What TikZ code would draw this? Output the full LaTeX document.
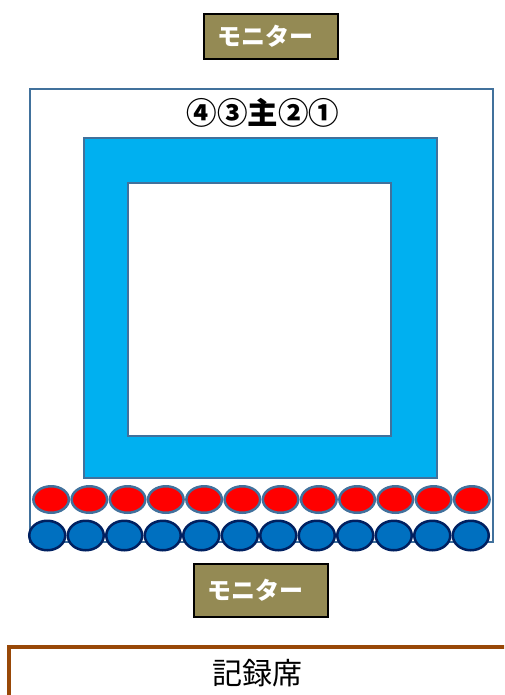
\documentclass[tikz,border=0pt]{standalone}
\usepackage{fontspec}
\newfontfamily\jp{Noto Sans CJK JP}
\usetikzlibrary{shapes.geometric}
\definecolor{frameblue}{HTML}{41719C}
\definecolor{poolblue}{HTML}{00B0F0}
\definecolor{seatblue}{HTML}{0070C0}
\definecolor{seatnavy}{HTML}{002060}
\definecolor{monolive}{HTML}{948A54}
\definecolor{deskbrown}{HTML}{984807}
\begin{document}
\begin{tikzpicture}[x=1pt, y=-1pt,
    monitor/.style={draw=black, line width=2.2pt, fill=monolive,
        minimum width=134pt, inner sep=0pt},
    montext/.style={text=white, font=\jp\bfseries\fontsize{24}{24}\selectfont, inner sep=0pt},
    redseat/.style={ellipse, draw=frameblue, line width=2.5pt, fill=red,
        minimum width=35.5pt, minimum height=26.5pt, inner sep=0pt},
    blueseat/.style={ellipse, draw=seatnavy, line width=2.5pt, fill=seatblue,
        minimum width=36pt, minimum height=29.5pt, inner sep=0pt}]
        \useasboundingbox (0,0) rectangle (504,695);
        \clip (0,0) rectangle (504,695);

        % Monitor at the top
        \node[monitor, minimum height=45pt] (monTop) at (271,36.5) {};
        \node[montext] (monTopText) at ([xshift=-6pt]monTop.center) {モニター};

        % Outer area
        \draw[frameblue, line width=2.5pt] (30,89) rectangle (493,542);
        \node[font=\jp\bfseries\fontsize{30.5}{30.5}\selectfont] (order) at (263,113) {④③主②①};

        % Blue frame with white square inside
        \draw[frameblue, line width=2.5pt, fill=poolblue, even odd rule]
            (84,138) rectangle (437,478) (128,183) rectangle (391,436);

        % Two rows of seats
        \foreach \i in {1,...,12} {
            \node[redseat] (red\i) at ({32+19.1+38.25*(\i-1)},499.5) {};
        }
        \foreach \i in {1,...,12} {
            \node[blueseat] (blue\i) at ({28+19.25+38.5*(\i-1)},535.5) {};
        }

        % Monitor at the bottom
        \node[monitor, minimum height=53pt] (monBottom) at (261,590.5) {};
        \node[montext] (monBottomText) at ([xshift=-6pt]monBottom.center) {モニター};

        % Recording desk
        \draw[deskbrown, line width=3.5pt] (9,647) rectangle (530,730);
        \node[font=\jp\fontsize{30}{30}\selectfont] (desk) at (257,673) {記録席};
\end{tikzpicture}
\end{document}
